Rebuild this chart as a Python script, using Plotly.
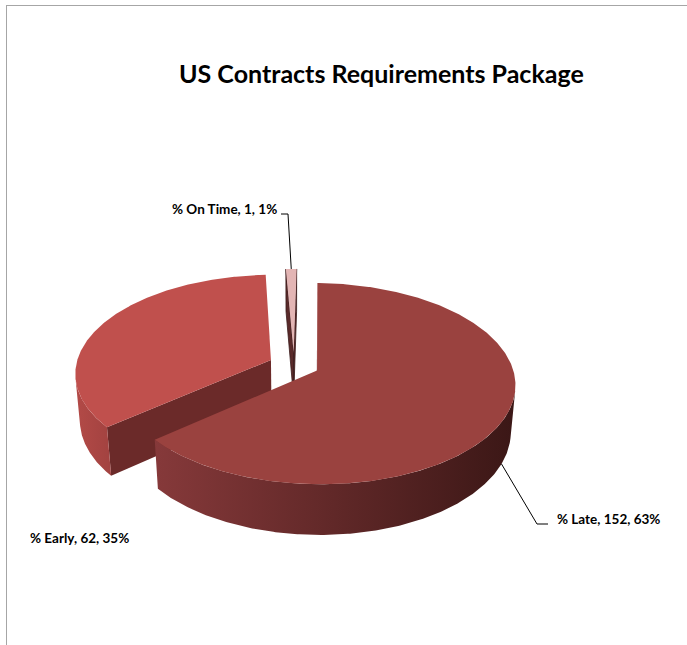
import numpy as np
import plotly.graph_objects as go

# ---- data ----
categories = ["% Late", "% Early", "% On Time"]
counts = [152, 62, 1]
percents = [63, 35, 1]

# ---- styling ----
top_colors = ["#9A423F", "#C0504D", "#E3B5B4"]
wall_colors = [["#86393A", "#3B1716"], ["#B34A47", "#A24240"], ["#8A5656", "#8A5656"]]
cut_colors = ["#5E2422", "#6B2A29", "#5A2A2A"]

# ---- 3-D view of the pie ----
FIRST_ANGLE = 1.0          # first slice starts here, degrees clockwise from 12 o'clock
EXPLODE = 0.13             # radial pull of every slice (in radii)
THICK = 0.28               # pie thickness (in radii)
ELEV = np.radians(30.0)    # camera elevation
DIST = 6.67                # camera distance (in radii)
FOCAL = 1300.0             # focal length, pixels per radius at unit distance
CX, CY = 294.0, 365.0      # screen position of the pie centre
W, H = 687, 645
CAM = np.array([0.0, DIST * np.sin(ELEV), DIST * np.cos(ELEV)])


def unit(deg):
    t = np.radians(deg)
    return np.sin(t), -np.cos(t)          # (X, Z); Z points toward the viewer


def project(X, Y, Z):
    X = np.asarray(X, float)
    Y = np.asarray(Y, float)
    Z = np.asarray(Z, float)
    v = Y * np.cos(ELEV) - Z * np.sin(ELEV)
    d = DIST - (Z * np.cos(ELEV) + Y * np.sin(ELEV))
    return CX + FOCAL * X / d, CY - FOCAL * v / d


def poly(fig, xs, ys, color=None, gradient=None, line=None):
    kw = dict(x=list(xs), y=list(ys), mode="lines", fill="toself",
              hoverinfo="skip", showlegend=False)
    if line is None:
        kw["line"] = dict(width=0, color="rgba(0,0,0,0)")
    else:
        kw["line"] = line
    if gradient is not None:
        kw["fillgradient"] = dict(type="horizontal",
                                  colorscale=[[0, gradient[0]], [1, gradient[1]]])
    else:
        kw["fillcolor"] = color
    fig.add_trace(go.Scatter(**kw))


total = float(sum(percents))
spans = [360.0 * p / total for p in percents]
starts = FIRST_ANGLE + np.concatenate([[0.0], np.cumsum(spans)[:-1]])

slices = []
for i in range(len(categories)):
    a = starts[i]
    b = a + spans[i]
    mid = 0.5 * (a + b)
    ux, uz = unit(mid)
    slices.append(dict(i=i, a=a, b=b, mid=mid, ox=EXPLODE * ux, oz=EXPLODE * uz))

# back slices first
slices.sort(key=lambda s: s["oz"] + 0.5 * unit(s["mid"])[1])

fig = go.Figure()

for s in slices:
    i, a, b, ox, oz = s["i"], s["a"], s["b"], s["ox"], s["oz"]
    edge_line = dict(width=0.8, color="#3A1A1A") if spans[i] < 10 else None

    # radial cut faces
    for ang, sign in ((a, -1.0), (b, 1.0)):
        t = np.radians(ang)
        n = sign * np.array([np.cos(t), 0.0, np.sin(t)])
        if np.dot(CAM - np.array([ox, 0.0, oz]), n) <= 0:
            continue
        rx, rz = unit(ang)
        X = [ox, ox + rx, ox + rx, ox, ox]
        Y = [0, 0, -THICK, -THICK, 0]
        Z = [oz, oz + rz, oz + rz, oz, oz]
        px, py = project(X, Y, Z)
        poly(fig, px, py, color=cut_colors[i], line=edge_line)

    # outer curved wall: visible runs only
    th = np.linspace(a, b, 400)
    sx, sz = unit(th)
    P = np.stack([ox + sx, np.full_like(sx, -THICK / 2), oz + sz], axis=1)
    N = np.stack([sx, np.zeros_like(sx), sz], axis=1)
    vis = np.einsum("ij,ij->i", CAM - P, N) > 0
    k = 0
    while k < len(th):
        if not vis[k]:
            k += 1
            continue
        j = k
        while j + 1 < len(th) and vis[j + 1]:
            j += 1
        if j > k:
            seg = th[k:j + 1]
            gx, gz = unit(seg)
            tx, ty = project(ox + gx, np.zeros_like(gx), oz + gz)
            bx, by = project(ox + gx, np.full_like(gx, -THICK), oz + gz)
            xs = np.concatenate([tx, bx[::-1], tx[:1]])
            ys = np.concatenate([ty, by[::-1], ty[:1]])
            poly(fig, xs, ys, gradient=wall_colors[i])
        k = j + 1

    # top face
    th = np.linspace(a, b, max(int(spans[i] * 2), 4))
    gx, gz = unit(th)
    X = np.concatenate([[ox], ox + gx, [ox]])
    Z = np.concatenate([[oz], oz + gz, [oz]])
    px, py = project(X, np.zeros_like(X), Z)
    poly(fig, px, py, color=top_colors[i])

    s["rim_top"] = project(ox + unit(s["mid"])[0], 0.0, oz + unit(s["mid"])[1])
    s["rim_bottom"] = project(ox + unit(s["mid"])[0], -THICK, oz + unit(s["mid"])[1])

by_cat = {categories[s["i"]]: s for s in slices}

labels = [f"{c}, {n}, {p}%" for c, n, p in zip(categories, counts, percents)]
label_font = dict(family="Lato", size=13.5, color="#000000", weight="bold")

# leader lines
late = by_cat["% Late"]
lx0, ly0 = late["rim_bottom"]
fig.add_trace(go.Scatter(x=[float(lx0), 537, 548], y=[float(ly0), 524, 524], mode="lines",
                         line=dict(color="#000000", width=1), hoverinfo="skip",
                         showlegend=False))
ontime = by_cat["% On Time"]
ox0, oy0 = ontime["rim_top"]
fig.add_trace(go.Scatter(x=[281, 288, float(ox0)], y=[214, 214, float(oy0)], mode="lines",
                         line=dict(color="#000000", width=1), hoverinfo="skip",
                         showlegend=False))

annotations = [
    dict(x=555, y=519, text=labels[0], xanchor="left", yanchor="middle"),
    dict(x=28, y=538, text=labels[1], xanchor="left", yanchor="middle"),
    dict(x=279, y=209, text=labels[2], xanchor="right", yanchor="middle"),
]
for an in annotations:
    an.update(xref="x", yref="y", showarrow=False, font=label_font)

annotations.append(dict(x=381, y=73, xref="x", yref="y", showarrow=False,
                        text="US Contracts Requirements Package",
                        xanchor="center", yanchor="middle",
                        font=dict(family="Lato", size=25, color="#000000", weight="bold")))

fig.update_layout(
    width=W, height=H,
    margin=dict(l=0, r=0, t=0, b=0),
    paper_bgcolor="#FFFFFF", plot_bgcolor="#FFFFFF",
    xaxis=dict(range=[0, W], visible=False, fixedrange=True),
    yaxis=dict(range=[H, 0], visible=False, fixedrange=True),
    annotations=annotations,
    shapes=[
        dict(type="line", xref="x", yref="y", x0=6, x1=W, y0=5.5, y1=5.5,
             line=dict(color="#A6A6A6", width=1)),
        dict(type="line", xref="x", yref="y", x0=6.5, x1=6.5, y0=5, y1=H,
             line=dict(color="#A6A6A6", width=1)),
    ],
)

fig.write_html("out.html")
